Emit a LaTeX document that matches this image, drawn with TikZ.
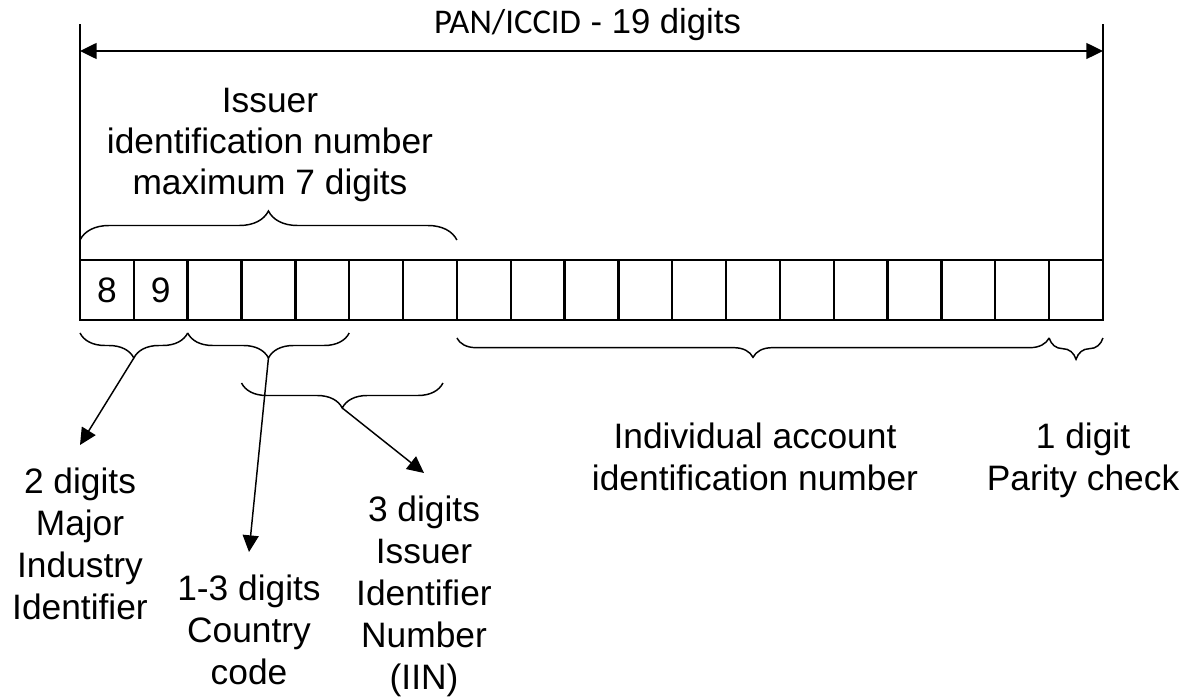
\documentclass[tikz,border=0pt]{standalone}
\usepackage{fontspec}
\setmainfont{Liberation Sans}
\newfontfamily\panfont{Carlito}
\usetikzlibrary{arrows.meta,calc,positioning,decorations.pathreplacing}

\tikzset{
  cell/.style={draw,line width=1.8pt,minimum width=40.38pt,minimum height=45pt,
    outer sep=0pt,inner sep=0pt,font=\fontsize{26.5}{30}\selectfont},
  brc/.style={decorate,decoration={brace,amplitude=#1}},
  lbl/.style={align=center,anchor=north,inner sep=0pt,font=\fontsize{26.5}{31.5}\selectfont},
  tgt/.style={lbl,outer ysep=17pt},
}

\begin{document}
\begin{tikzpicture}[x=0.75pt,y=-0.75pt,>={Triangle[length=12.5pt,width=12pt]},line width=1.1pt]
  \useasboundingbox (0,0) rectangle (1189,698);
  % the 19 digit cells
  \node[cell] (c1) at (106.92,290) {8};
  \node[cell,right=0pt of c1] (c2) {9};
  \foreach \i [remember=\i as \j (initially 2)] in {3,...,19}
    \node[cell,right=0pt of c\j] (c\i) {};
  % total length
  \coordinate (pl) at ($(c1.north west)+(0,-236)$);
  \coordinate (pr) at ($(c19.north east)+(0,-236)$);
  \draw (c1.north west) -- (pl);
  \draw (c19.north east) -- (pr);
  \draw[<->] ($(pl)+(0,27)$) -- ($(pr)+(0,27)$)
    node[midway,anchor=base,yshift=12.75pt,xshift=-3pt,font=\fontsize{26}{30}\selectfont] (ttl)
    {{\panfont PAN/ICCID} - 19 digits};
  % braces
  \draw[brc=21.75pt] ($(c1.north west)+(0,-20)$) -- ($(c7.north east)+(0,-20)$);
  \draw[brc=18.75pt] ($(c2.south east)+(0,13)$) -- ($(c1.south west)+(0,13)$);
  \coordinate (t1) at ($(c1.south west)!0.5!(c2.south east)+(0,38)$);
  \draw[brc=18.75pt] ($(c5.south east)+(0,13)$) -- ($(c3.south west)+(0,13)$);
  \coordinate (t2) at ($(c3.south west)!0.5!(c5.south east)+(0,38)$);
  \draw[brc=18.75pt] ($(c7.south)+(13,63)$) -- ($(c4.south west)+(0,63)$);
  \coordinate (t3) at ($(c4.south west)!0.5!(c7.south)+(6.5,88)$);
  \draw[brc=14.5pt] ($(c18.south east)+(0,18)$) -- ($(c8.south west)+(0,18)$);
  \draw[brc=16pt] ($(c19.south east)+(0,18)$) -- ($(c19.south west)+(0,18)$);
  % labels
  \node[lbl,font=\fontsize{26.5}{30.75}\selectfont] (iss) at (270,87)
    {Issuer\\identification number\\maximum 7 digits};
  \node[tgt] (mii) at (80,445) {2 digits\\Major\\Industry\\Identifier};
  \node[tgt] (cc) at (249,552) {1-3 digits\\Country\\code};
  \node[tgt] (iin) at (424,473) {3 digits\\Issuer\\Identifier\\Number\\(IIN)};
  \node[lbl] (acct) at (755,422) {Individual account\\identification number};
  \node[lbl] (par) at (1083,422) {1 digit\\Parity check};
  % pointers
  \draw[->] (t1) -- (mii.north);
  \draw[->] (t2) -- (cc.north);
  \draw[->] (t3) -- (iin.north);
\end{tikzpicture}
\end{document}
